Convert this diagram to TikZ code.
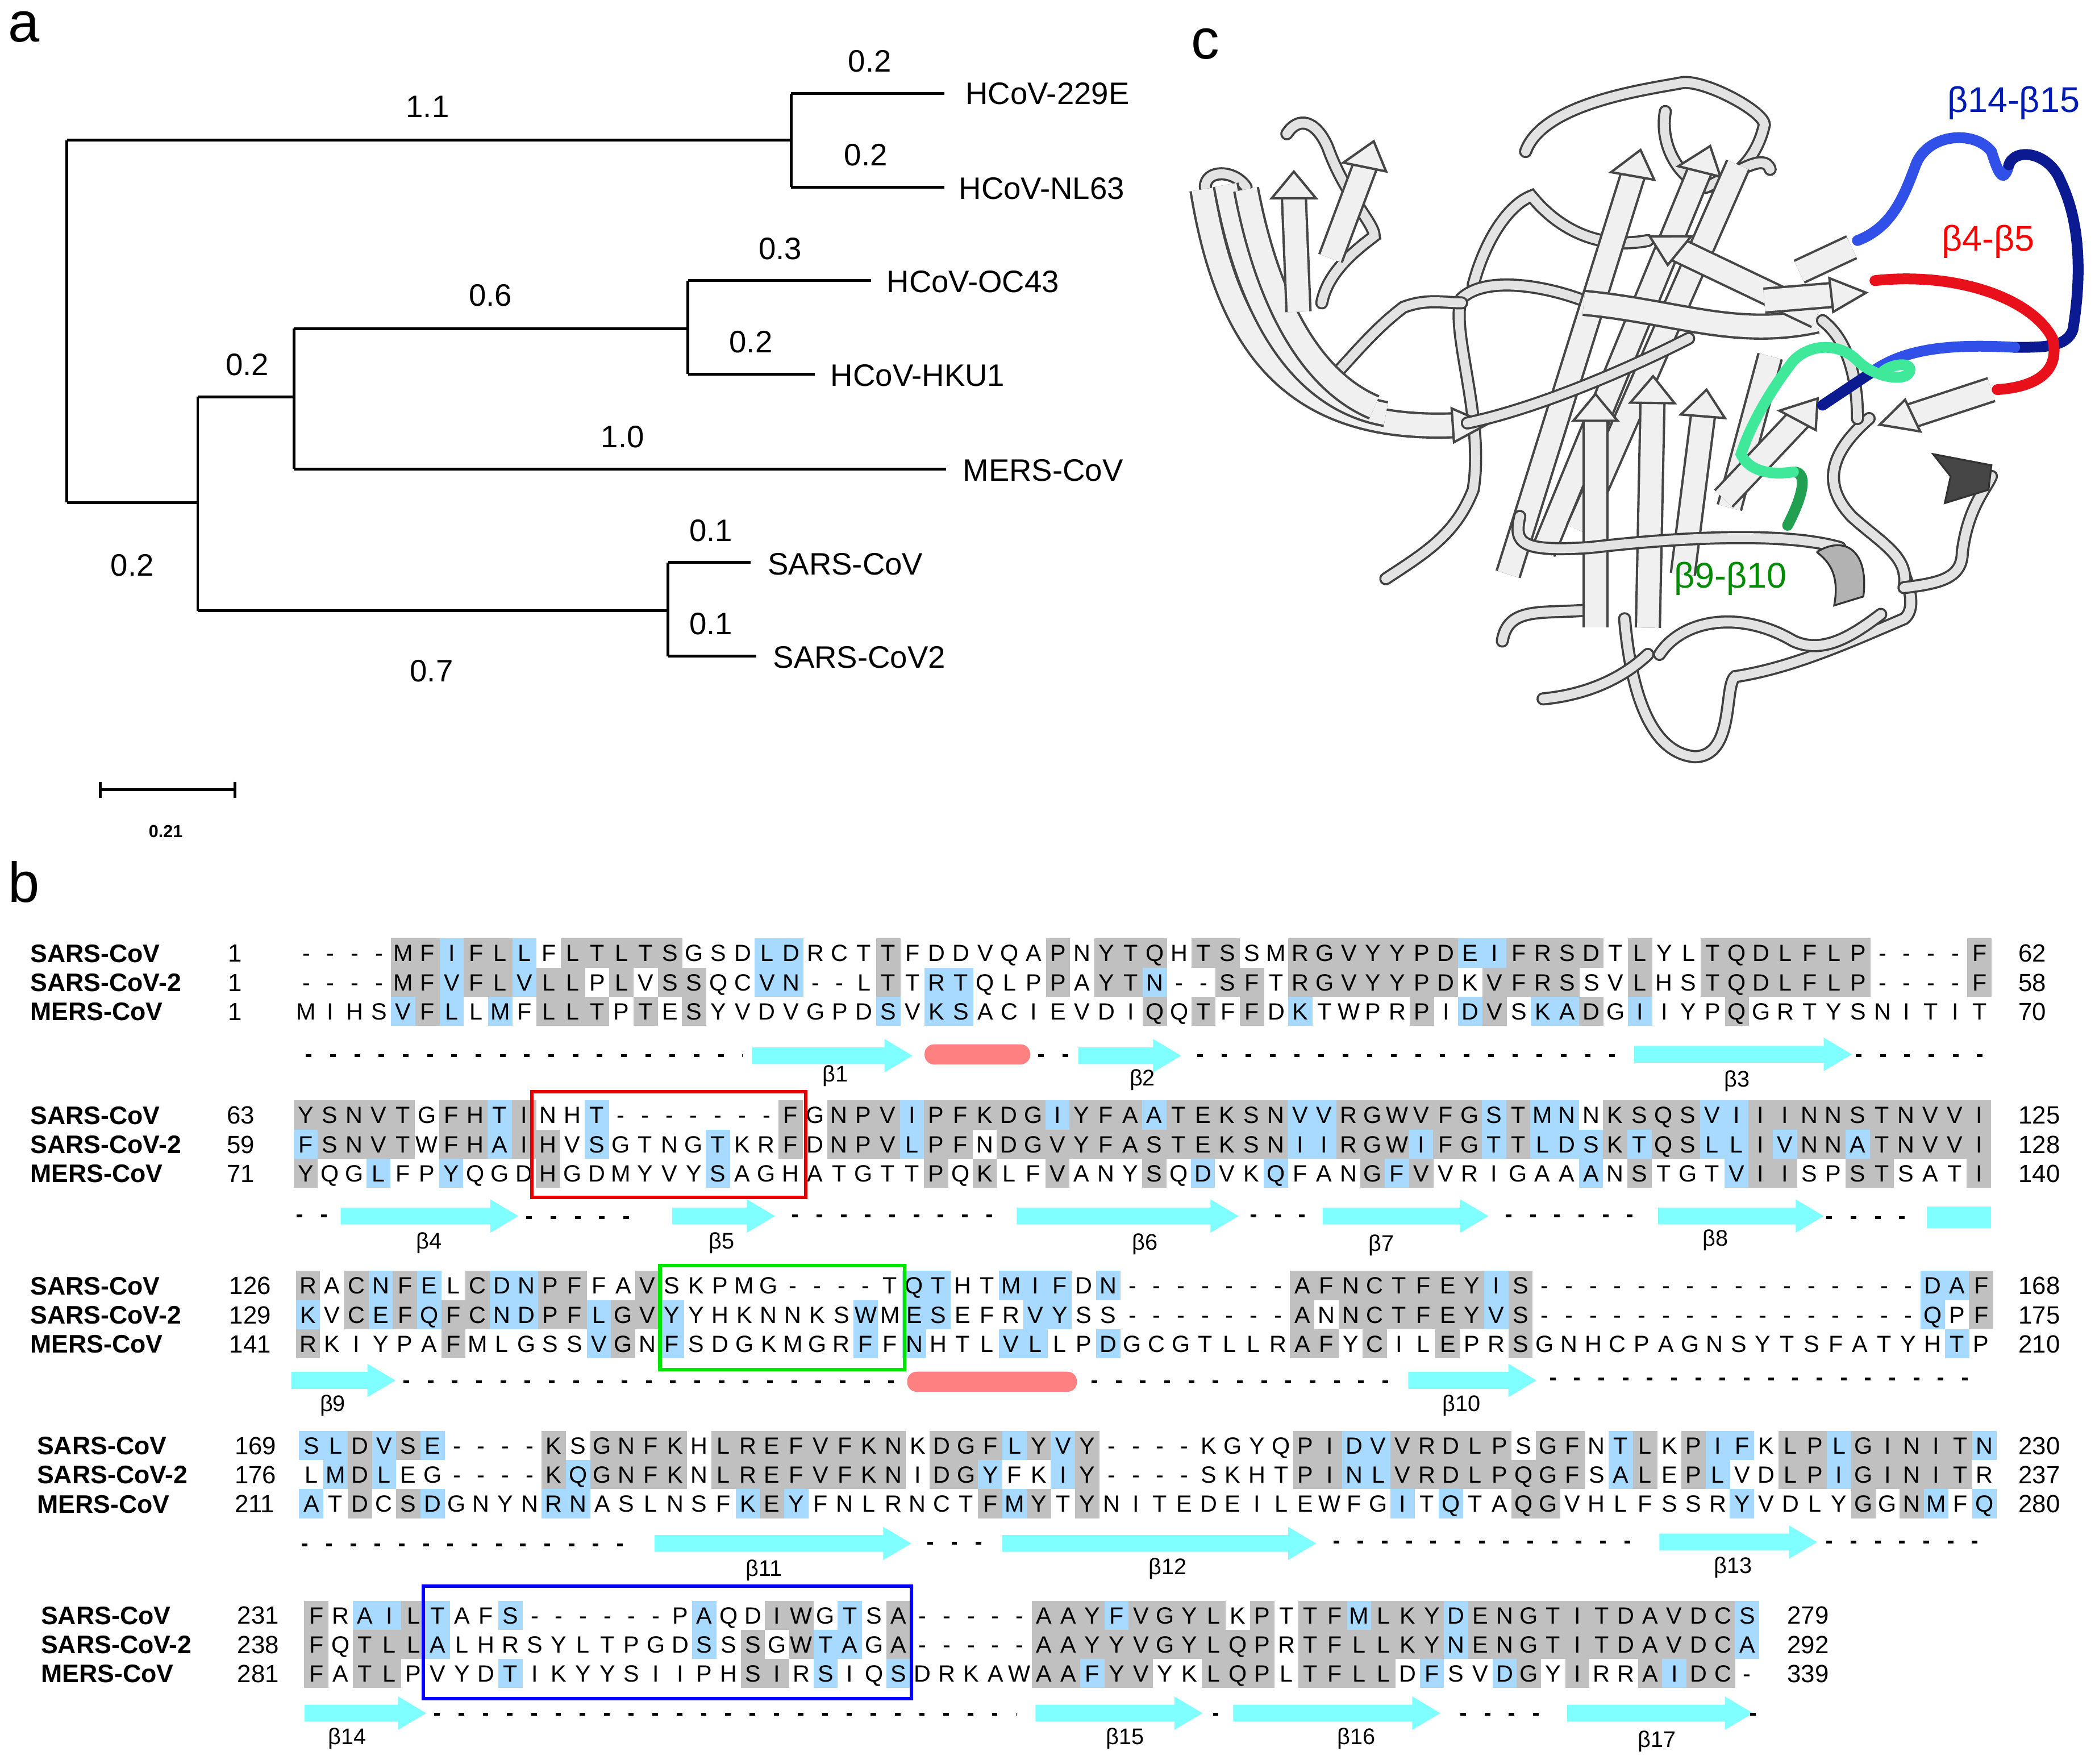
\documentclass[tikz,border=0pt]{standalone}
\usepackage{fontspec}
\setmainfont{Liberation Sans}
\usetikzlibrary{arrows.meta}
\definecolor{algrey}{HTML}{C0C0C0}
\definecolor{alblue}{HTML}{A8DAFF}
\definecolor{sscyan}{HTML}{7FFFFF}
\definecolor{sshel}{HTML}{FF8080}
\definecolor{lblue}{HTML}{3050E8}
\definecolor{dblue}{HTML}{0B1A90}
\definecolor{lred}{HTML}{E8101A}
\definecolor{lgreen}{HTML}{40E89A}
\definecolor{dgreen}{HTML}{20A050}
\newcommand\alcell[5]{%
  \ifx\relax#3\relax\else\fill[#3] ({#1-9.1},{#2-10.9}) rectangle ({#1+9.1},{#2+10.9});\fi
  \node[res] (#5) at (#1,#2) {#4};}
\newcommand\ssarr[3]{% x1 x2 y
  \fill[sscyan] (#1,#3-6.3) -- (#2-21,#3-6.3) -- (#2-21,#3-12.5) -- (#2,#3) -- (#2-21,#3+12.5) -- (#2-21,#3+6.3) -- (#1,#3+6.3) -- cycle;}
\newcommand\sshelix[3]{\fill[sshel,rounded corners=2pt] (#1,#3-7.5) rectangle (#2,#3+7.5);}
\newcommand\stip[3]{\begin{scope}[shift={(#1,#2)},rotate=#3]
  \draw[draw=gray!55!black,fill=gray!12,line width=0.5pt] (-5,-38) -- (55,0) -- (-5,38) -- cycle;\end{scope}}
\ExplSyntaxOn
\clist_map_inline:nn {I,L,V,M} { \tl_const:cn {c__al_cls_#1_tl} {a} }
\clist_map_inline:nn {F,Y,W} { \tl_const:cn {c__al_cls_#1_tl} {b} }
\clist_map_inline:nn {D,E,N,Q} { \tl_const:cn {c__al_cls_#1_tl} {c} }
\clist_map_inline:nn {K,R,H} { \tl_const:cn {c__al_cls_#1_tl} {d} }
\clist_map_inline:nn {S,T,A} { \tl_const:cn {c__al_cls_#1_tl} {e} }
\cs_new:Npn \__al_cls:n #1 { \tl_if_exist:cTF {c__al_cls_#1_tl} { \tl_use:c {c__al_cls_#1_tl} } { x#1 } }
\cs_generate_variant:Nn \__al_cls:n {V}
\tl_new:N \l__al_s_tl
\tl_new:N \l__al_k_tl
\tl_new:N \l__al_ka_tl
\tl_new:N \l__al_kb_tl
\tl_new:N \l__al_x_tl
\tl_new:N \l__al_ca_tl
\tl_new:N \l__al_cb_tl
\tl_new:N \l__al_cc_tl
\str_new:N \l__al_a_str
\str_new:N \l__al_b_str
\str_new:N \l__al_c_str
\cs_new_protected:Npn \__al_shade:NNN #1#2#3
 {
  \tl_clear:N \l__al_s_tl
  \str_if_eq:VnF #1 {-}
   {
    \bool_lazy_or:nnTF { \str_if_eq_p:VV #1 #2 } { \str_if_eq_p:VV #1 #3 }
     { \tl_set:Nn \l__al_s_tl {algrey} }
     {
      \tl_set:Nx \l__al_k_tl { \__al_cls:V #1 }
      \tl_set:Nx \l__al_ka_tl { \__al_cls:V #2 }
      \tl_set:Nx \l__al_kb_tl { \__al_cls:V #3 }
      \bool_lazy_or:nnT { \str_if_eq_p:VV \l__al_k_tl \l__al_ka_tl } { \str_if_eq_p:VV \l__al_k_tl \l__al_kb_tl }
       { \tl_set:Nn \l__al_s_tl {alblue} }
     }
   }
 }
\cs_new_protected:Npn \__al_put:nnNn #1#2#3#4
 {
  \use:x { \exp_not:N \alcell {\l__al_x_tl} {#1} {\l__al_s_tl} {\exp_not:V #3} {#4} }
 }
\cs_new_protected:Npn \alblock #1#2#3#4#5#6
 {
  \str_set:Nn \l__al_a_str {#4}
  \str_set:Nn \l__al_b_str {#5}
  \str_set:Nn \l__al_c_str {#6}
  \int_step_inline:nn { \str_count:N \l__al_a_str }
   {
    \tl_set:Nx \l__al_x_tl { \fp_eval:n { #1 + (##1 - 1) * 18.15 } }
    \tl_set:Nx \l__al_ca_tl { \str_item:Nn \l__al_a_str {##1} }
    \tl_set:Nx \l__al_cb_tl { \str_item:Nn \l__al_b_str {##1} }
    \tl_set:Nx \l__al_cc_tl { \str_item:Nn \l__al_c_str {##1} }
    \__al_shade:NNN \l__al_ca_tl \l__al_cb_tl \l__al_cc_tl
    \__al_put:nnNn { \fp_eval:n {#2} } {} \l__al_ca_tl {#3ra##1}
    \__al_shade:NNN \l__al_cb_tl \l__al_ca_tl \l__al_cc_tl
    \__al_put:nnNn { \fp_eval:n {#2 + 21.8} } {} \l__al_cb_tl {#3rb##1}
    \__al_shade:NNN \l__al_cc_tl \l__al_ca_tl \l__al_cb_tl
    \__al_put:nnNn { \fp_eval:n {#2 + 43.6} } {} \l__al_cc_tl {#3rc##1}
   }
 }
\ExplSyntaxOff
\newcommand\blocklabels[9]{% id namex numx y n1 n2 n3 endx ends
  \node[nm] (#1na) at (#2,#4) {SARS-CoV};
  \node[nm] (#1nb) at (#2,#4+21.8) {SARS-CoV-2};
  \node[nm] (#1nc) at (#2,#4+43.6) {MERS-CoV};
  \foreach \v/\k [count=\i] in {#5/a,#6/b,#7/c}{\node[num] (#1s\k) at (#3,{#4+(\i-1)*21.8}) {\v};}
  \foreach \v/\k [count=\i] in {#9}{\node[num] (#1e\k) at (#8,{#4+(\i-1)*21.8}) {\v};}}
\begin{document}
\begin{tikzpicture}[x=0.01cm,y=-0.01cm,
  res/.style={font=\fontsize{5}{6}\selectfont,inner sep=0pt,text height=3.6pt,text depth=0pt},
  nm/.style={font=\fontsize{5.4}{6}\selectfont\bfseries,anchor=west,inner sep=0pt,text height=3.9pt,text depth=0pt},
  num/.style={font=\fontsize{5.3}{6}\selectfont,anchor=west,inner sep=0pt,text height=3.8pt,text depth=0pt},
  bl/.style={font=\fontsize{4.8}{6}\selectfont,inner sep=0pt},
  tl/.style={font=\fontsize{6.6}{8}\selectfont,inner sep=0pt},
  leaf/.style={tl,anchor=west},
  panel/.style={font=\fontsize{12}{14}\selectfont,inner sep=0pt},
  br/.style={line width=0.6pt},
  ssd/.style={line width=0.6pt,dash pattern=on 1.2pt off 3.96pt},
  tube/.style={draw=gray!50!black,line width=0.45pt,double=gray!22,double distance=1.9pt,line cap=round},
  strand/.style={draw=gray!55!black,line width=0.5pt,double=gray!12,double distance=4.6pt},
  ctube/.style={line width=2.3pt,line cap=round}]
\useasboundingbox (0,0) rectangle (1568,1320);
% panel letters
\node[panel] (pa) at (18,20) {a};
\node[panel] (pb) at (18,660) {b};
\node[panel] (pc) at (902,33) {c};
% ---------------- tree
\coordinate (root1) at (50,105); \coordinate (root2) at (50,376);
\coordinate (n1a) at (592,105); \coordinate (n1t) at (592,70); \coordinate (n1b) at (592,140);
\coordinate (n2a) at (148,376); \coordinate (n2t) at (148,297); \coordinate (n2b) at (148,457);
\coordinate (n3a) at (220,297); \coordinate (n3t) at (220,246); \coordinate (n3b) at (220,351);
\coordinate (n4a) at (515,246); \coordinate (n4t) at (515,210); \coordinate (n4b) at (515,280);
\coordinate (n5a) at (500,457); \coordinate (n5t) at (500,421); \coordinate (n5b) at (500,491);
\node[leaf] (l1) at (722,70) {HCoV-229E};
\node[leaf] (l2) at (717,141) {HCoV-NL63};
\node[leaf] (l3) at (663,211) {HCoV-OC43};
\node[leaf] (l4) at (621,281) {HCoV-HKU1};
\node[leaf] (l5) at (720,352) {MERS-CoV};
\node[leaf] (l6) at (574,422) {SARS-CoV};
\node[leaf] (l7) at (578,492) {SARS-CoV2};
\draw[br] (root1) -- (root2);
\draw[br] (root1) -- (n1a); \draw[br] (n1t) -- (n1b);
\draw[br] (n1t) -- (707,70); \draw[br] (n1b) -- (707,140);
\draw[br] (root2) -- (n2a); \draw[br] (n2t) -- (n2b);
\draw[br] (n2t) -- (n3a); \draw[br] (n3t) -- (n3b);
\draw[br] (n3t) -- (n4a); \draw[br] (n4t) -- (n4b);
\draw[br] (n4t) -- (652,210); \draw[br] (n4b) -- (610,280);
\draw[br] (n3b) -- (708,351);
\draw[br] (n2b) -- (n5a); \draw[br] (n5t) -- (n5b);
\draw[br] (n5t) -- (562,421); \draw[br] (n5b) -- (566,491);
\foreach \t/\x/\y [count=\i] in {1.1/320/80,0.2/651/46,0.2/648/116,0.3/584/186,0.2/562/256,0.6/367/221,0.2/185/273,1.0/466/327,0.1/532/397,0.1/532/467,0.2/99/423,0.7/323/502}
  {\node[tl] (bl\i) at (\x,\y) {\t};}
\coordinate (sb1) at (75,591); \coordinate (sb2) at (176,591);
\draw[br] (sb1) -- (sb2); \draw[br] (75,585) -- (75,597); \draw[br] (176,585) -- (176,597);
\node[font=\fontsize{3.7}{4}\selectfont\bfseries,inner sep=0pt] (sbl) at (124,622) {0.21};
% ---------------- alignment
\alblock{229.2}{713.2}{b1}{----MFIFLLFLTLTSGSDLDRCTTFDDVQAPNYTQHTSSMRGVYYPDEIFRSDTLYLTQDLFLP----F}{----MFVFLVLLPLVSSQCVN--LTTRTQLPPAYTN--SFTRGVYYPDKVFRSSVLHSTQDLFLP----F}{MIHSVFLLMFLLTPTESYVDVGPDSVKSACIEVDIQQTFFDKTWPRPIDVSKADGIIYPQGRTYSNITIT}
\alblock{228.8}{834.4}{b2}{YSNVTGFHTINHT-------FGNPVIPFKDGIYFAATEKSNVVRGWVFGSTMNNKSQSVIIINNSTNVVI}{FSNVTWFHAIHVSGTNGTKRFDNPVLPFNDGVYFASTEKSNIIRGWIFGTTLDSKTQSLLIVNNATNVVI}{YQGLFPYQGDHGDMYVYSAGHATGTTPQKLFVANYSQDVKQFANGFVVRIGAAANSTGTVIISPSTSATI}
\alblock{230.5}{962}{b3}{RACNFELCDNPFFAVSKPMG----TQTHTMIFDN-------AFNCTFEYIS----------------DAF}{KVCEFQFCNDPFLGVYYHKNNKSWMESEFRVYSS-------ANNCTFEYVS----------------QPF}{RKIYPAFMLGSSVGNFSDGKMGRFFNHTLVLLPDGCGTLLRAFYCILEPRSGNHCPAGNSYTSFATYHTP}
\alblock{233}{1081.7}{b4}{SLDVSE----KSGNFKHLREFVFKNKDGFLYVY----KGYQPIDVVRDLPSGFNTLKPIFKLPLGINITN}{LMDLEG----KQGNFKNLREFVFKNIDGYFKIY----SKHTPINLVRDLPQGFSALEPLVDLPIGINITR}{ATDCSDGNYNRNASLNSFKEYFNLRNCTFMYTYNITEDEILEWFGITQTAQGVHLFSSRYVDLYGGNMFQ}
\alblock{236.8}{1208.7}{b5}{FRAILTAFS------PAQDIWGTSA-----AAYFVGYLKPTTFMLKYDENGTITDAVDCS}{FQTLLALHRSYLTPGDSSSGWTAGA-----AAYYVGYLQPRTFLLKYNENGTITDAVDCA}{FATLPVYDTIKYYSIIPHSIRSIQSDRKAWAAFYVYKLQPLTFLLDFSVDGYIRRAIDC-}
\blocklabels{k1}{22}{170}{713.2}{1}{1}{1}{1510}{62/a,58/b,70/c}
\blocklabels{k2}{22}{169}{834.4}{63}{59}{71}{1510}{125/a,128/b,140/c}
\blocklabels{k3}{22}{171}{962}{126}{129}{141}{1510}{168/a,175/b,210/c}
\blocklabels{k4}{27}{175}{1081.7}{169}{176}{211}{1510}{230/a,237/b,280/c}
\blocklabels{k5}{30}{177}{1208.7}{231}{238}{281}{1337}{279/a,292/b,339/c}
% boxes
\draw[red!90!black,line width=0.75pt] (398,817) rectangle (603,896);
\draw[green!90!black,line width=0.75pt] (494,947) rectangle (677,1025);
\draw[blue,line width=0.75pt] (317,1187) rectangle (682,1271);
% secondary structure block1 (y 790)
\draw[ssd] (229,790) -- (556,790);
\ssarr{563}{683}{790} \sshelix{692}{771}{789}
\draw[ssd] (777,790) -- (805,790);
\ssarr{807}{884}{790}
\draw[ssd] (896,790) -- (1212,790);
\ssarr{1223}{1386}{789}
\draw[ssd] (1389,790) -- (1487,790);
\node[bl] (t1) at (625,805) {β1}; \node[bl] (t2) at (855,808) {β2}; \node[bl] (t3) at (1300,809) {β3};
% block2 (y 910)
\draw[ssd] (222,910) -- (248,910);
\ssarr{255}{388}{910} \draw[ssd] (394,911) -- (481,911);
\ssarr{503}{580}{910} \draw[ssd] (593,910) -- (754,910);
\ssarr{761}{927}{910} \draw[ssd] (936,910) -- (983,910);
\ssarr{990}{1114}{910} \draw[ssd] (1127,910) -- (1229,910);
\ssarr{1241}{1365}{910} \draw[ssd] (1367,911) -- (1431,911);
\fill[sscyan] (1442,903) rectangle (1490,919);
\node[bl] (t4) at (321,930) {β4}; \node[bl] (t5) at (540,930) {β5}; \node[bl] (t6) at (857,931) {β6};
\node[bl] (t7) at (1034,932) {β7}; \node[bl] (t8) at (1284,928) {β8};
% block3 (y 1034)
\ssarr{218}{296}{1033} \draw[ssd] (302,1034) -- (672,1034);
\sshelix{679}{806}{1034}
\draw[ssd] (817,1034) -- (1049,1034);
\ssarr{1054}{1150}{1033} \draw[ssd] (1160,1032) -- (1484,1032);
\node[bl] (t9) at (249,1052) {β9}; \node[bl] (t10) at (1094,1052) {β10};
% block4 (y 1155)
\draw[ssd] (226,1156) -- (480,1156);
\ssarr{490}{682}{1155} \draw[ssd] (694,1155) -- (741,1155);
\ssarr{750}{985}{1155} \draw[ssd] (998,1154) -- (1229,1154);
\ssarr{1242}{1360}{1154} \draw[ssd] (1367,1154) -- (1489,1154);
\node[bl] (t11) at (572,1175) {β11}; \node[bl] (t12) at (874,1174) {β12}; \node[bl] (t13) at (1297,1173) {β13};
% block5 (y 1282)
\ssarr{228}{319}{1282} \draw[ssd] (325,1283) -- (761,1283);
\ssarr{775}{900}{1282} \draw[ssd] (908,1283) -- (912,1283);
\ssarr{923}{1078}{1282} \draw[ssd] (1093,1283) -- (1157,1283);
\ssarr{1173}{1312}{1282} \draw[ssd] (1310,1283) -- (1314,1283);
\node[bl] (t14) at (260,1301) {β14}; \node[bl] (t15) at (842,1301) {β15};
\node[bl] (t16) at (1015,1301) {β16}; \node[bl] (t17) at (1240,1303) {β17};
% ---------------- panel c ribbon (stylised)
\begin{scope}[shift={(884.7,46.8)},xscale=0.4358,yscale=0.333]
 % back loops
 \draw[tube] (760,1250) .. controls (770,1400) and (800,1550) .. (880,1560) .. controls (950,1560) and (930,1400) .. (950,1380) .. controls (1050,1360) and (1150,1300) .. (1240,1250) .. controls (1260,1230) and (1250,1180) .. (1240,1150);
 \draw[tube] (620,1430) .. controls (700,1420) and (760,1380) .. (800,1330);
 \draw[tube] (820,1330) .. controls (860,1250) and (960,1230) .. (1050,1300) .. controls (1100,1330) and (1150,1290) .. (1200,1240);
 \draw[tube] (550,1300) .. controls (560,1220) and (620,1240) .. (700,1230);
 \draw[tube] (1180,800) .. controls (1110,880) and (1100,950) .. (1150,1020) .. controls (1200,1080) and (1250,1110) .. (1240,1180);
 \draw[tube] (1240,1180) .. controls (1300,1170) and (1340,1160) .. (1340,1100) .. controls (1350,1000) and (1380,960) .. (1390,930);
 \draw[tube] (590,200) .. controls (620,90) and (800,60) .. (860,45) .. controls (900,40) and (1000,110) .. (1000,140) .. controls (990,200) and (960,260) .. (900,280) .. controls (850,260) and (820,180) .. (830,110);
 \draw[tube] (900,280) .. controls (950,250) and (1000,200) .. (1010,240);
 \draw[tube] (180,160) .. controls (200,120) and (230,130) .. (250,190) .. controls (280,300) and (330,360) .. (330,390) .. controls (300,420) and (250,470) .. (240,540);
 \draw[tube] (40,280) .. controls (40,240) and (90,240) .. (110,280);
 \draw[tube] (500,500) .. controls (520,400) and (560,320) .. (600,300) .. controls (650,380) and (720,420) .. (800,400);
 \draw[tube] (350,1160) .. controls (420,1100) and (470,1060) .. (500,960) .. controls (520,800) and (460,600) .. (480,530) .. controls (520,480) and (620,500) .. (690,535);
 \draw[tube] (250,720) .. controls (300,650) and (330,600) .. (380,550) .. controls (420,530) and (450,540) .. (480,540);
 % strands
 \draw[strand] (35,285) .. controls (80,650) and (200,830) .. (470,815); \stip{470}{815}{3}
 \draw[strand] (75,275) .. controls (120,600) and (220,760) .. (350,790);
 \draw[strand] (110,285) .. controls (150,560) and (230,720) .. (330,775);
 \draw[strand] (200,560) -- (192,300); \stip{192}{300}{90}
 \draw[strand] (255,440) -- (315,230); \stip{315}{230}{75}
 \draw[strand] (560,1150) -- (775,250); \stip{775}{250}{77}
 \draw[strand] (620,1100) -- (890,240); \stip{890}{240}{72}
 \draw[strand] (680,1050) -- (955,230);
 \draw[strand] (710,1270) -- (710,800); \stip{710}{800}{90}
 \draw[strand] (800,1270) -- (808,760); \stip{808}{760}{89}
 \draw[strand] (860,1150) -- (895,790); \stip{895}{790}{84}
 \draw[strand] (940,1000) -- (1010,660);
 \draw[strand] (930,980) -- (1060,800); \stip{1060}{800}{55}
 \draw[tube] (490,810) .. controls (600,780) and (750,700) .. (870,620);
 \draw[tube] (580,1020) .. controls (570,1080) and (580,1100) .. (700,1090) .. controls (900,1060) and (1050,1060) .. (1130,1090);
 \draw[strand] (690,540) .. controls (850,560) and (950,620) .. (1090,580);
 \draw[strand] (1090,570) -- (850,420); \stip{850}{420}{148}
 \draw[strand] (1000,535) -- (1120,522); \stip{1120}{522}{5}
 \draw[strand] (1060,470) -- (1150,415);
 \draw[strand] (1390,735) -- (1250,795); \stip{1250}{795}{-160}
 \draw[tube] (1100,580) .. controls (1140,620) and (1160,700) .. (1160,800);
 \draw[draw=gray!40!black,fill=gray!55!black] (1290,880) -- (1390,905) -- (1385,960) -- (1310,990) -- (1320,930) -- cycle;
 \draw[draw=gray!40!black,fill=gray!60] (1090,1100) .. controls (1140,1060) and (1180,1100) .. (1170,1200) -- (1120,1220) .. controls (1130,1150) and (1110,1120) .. (1090,1100);
 % coloured loops
 \draw[ctube,lblue] (1160,400) .. controls (1220,370) and (1240,300) .. (1260,230) .. controls (1280,160) and (1360,150) .. (1390,200) .. controls (1400,240) and (1410,280) .. (1420,230);
 \draw[ctube,dblue] (1420,230) .. controls (1430,190) and (1490,200) .. (1510,270) .. controls (1550,380) and (1540,520) .. (1530,600) .. controls (1520,640) and (1480,640) .. (1430,640);
 \draw[ctube,lblue] (1430,640) .. controls (1300,630) and (1230,650) .. (1180,700);
 \draw[ctube,dblue] (1180,700) -- (1100,770);
 \draw[ctube,lred] (1190,490) .. controls (1330,470) and (1460,530) .. (1495,620) .. controls (1510,700) and (1460,730) .. (1400,735);
 \draw[ctube,dgreen] (1040,1040) .. controls (1060,990) and (1080,920) .. (1050,920);
 \draw[ctube,lgreen] (1050,920) .. controls (1000,930) and (970,910) .. (960,880) .. controls (980,800) and (1020,720) .. (1050,670) .. controls (1080,630) and (1130,630) .. (1160,670) .. controls (1190,710) and (1250,720) .. (1250,690) .. controls (1250,670) and (1210,680) .. (1200,700);
\end{scope}
\node[font=\fontsize{7.6}{9}\selectfont,text=blue!85!cyan!70!black,inner sep=0pt] (c1) at (1507,77) {β14-β15};
\node[font=\fontsize{7.6}{9}\selectfont,text=red,inner sep=0pt] (c2) at (1488,181) {β4-β5};
\node[font=\fontsize{7.6}{9}\selectfont,text=green!55!black,inner sep=0pt] (c3) at (1295,433) {β9-β10};
\end{tikzpicture}
\end{document}
